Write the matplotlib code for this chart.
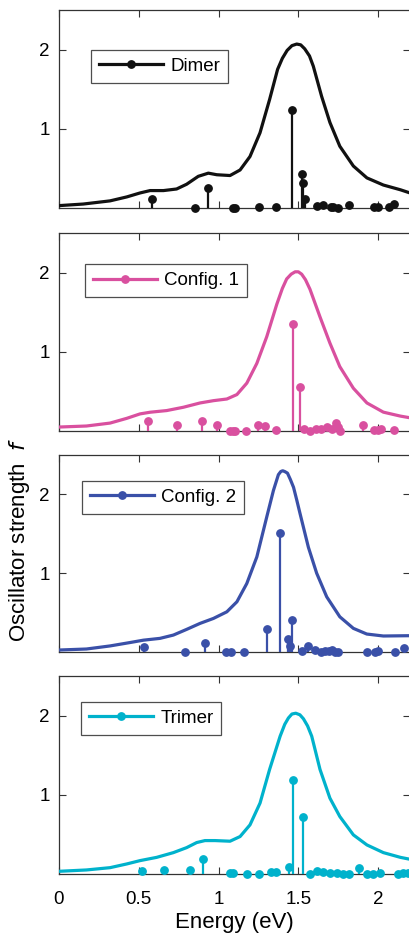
import matplotlib
matplotlib.use("Agg")
import matplotlib.pyplot as plt
from matplotlib.lines import Line2D

plt.rcParams['font.family'] = ['Liberation Sans', 'DejaVu Sans']

labels = ["Dimer", "Config. 1", "Config. 2", "Trimer"]
colors = ["#111111", "#D9509F", "#3A50A8", "#00B2CC"]

# Broadened spectra (energy in eV, oscillator strength)
dimer_curve_E = [0.0, 0.152, 0.32, 0.425, 0.508, 0.571, 0.655, 0.737, 0.80, 0.873, 0.936, 0.989,
                 1.072, 1.135, 1.197, 1.26, 1.32, 1.37, 1.40, 1.43, 1.46, 1.49, 1.515, 1.54,
                 1.57, 1.594, 1.646, 1.698, 1.76, 1.845, 1.93, 2.033, 2.14, 2.2]
dimer_curve_f = [0.03, 0.05, 0.09, 0.14, 0.19, 0.22, 0.22, 0.24, 0.30, 0.40, 0.44, 0.42,
                 0.41, 0.48, 0.65, 0.95, 1.37, 1.75, 1.89, 1.99, 2.05, 2.07, 2.06, 2.01,
                 1.92, 1.79, 1.41, 1.08, 0.78, 0.53, 0.38, 0.29, 0.23, 0.19]

c1_curve_E = [0.0, 0.172, 0.32, 0.425, 0.508, 0.571, 0.675, 0.78, 0.884, 0.968, 1.052, 1.115,
              1.177, 1.24, 1.302, 1.365, 1.40, 1.427, 1.455, 1.48, 1.50, 1.521, 1.545, 1.573,
              1.636, 1.698, 1.76, 1.845, 1.93, 2.033, 2.14, 2.2]
c1_curve_f = [0.05, 0.063, 0.10, 0.16, 0.216, 0.237, 0.258, 0.30, 0.354, 0.383, 0.404, 0.46,
              0.604, 0.854, 1.19, 1.60, 1.80, 1.92, 1.98, 2.01, 2.01, 1.98, 1.91, 1.79,
              1.44, 1.11, 0.813, 0.54, 0.354, 0.238, 0.188, 0.167]

c2_curve_E = [0.0, 0.172, 0.32, 0.445, 0.529, 0.633, 0.717, 0.80, 0.884, 0.968, 1.052, 1.115,
              1.177, 1.24, 1.302, 1.344, 1.375, 1.39, 1.402, 1.415, 1.432, 1.45, 1.47, 1.49,
              1.511, 1.563, 1.615, 1.678, 1.76, 1.845, 1.929, 2.033, 2.2]
c2_curve_f = [0.025, 0.038, 0.077, 0.12, 0.15, 0.173, 0.215, 0.287, 0.363, 0.426, 0.51, 0.637,
              0.869, 1.207, 1.713, 2.05, 2.25, 2.29, 2.30, 2.29, 2.27, 2.19, 2.09, 1.93,
              1.755, 1.33, 1.0, 0.70, 0.447, 0.30, 0.228, 0.203, 0.207]

tr_curve_E = [0.0, 0.172, 0.32, 0.425, 0.508, 0.612, 0.717, 0.80, 0.863, 0.915, 0.978, 1.072,
              1.135, 1.197, 1.26, 1.32, 1.386, 1.415, 1.438, 1.46, 1.484, 1.51, 1.532, 1.558,
              1.584, 1.636, 1.698, 1.76, 1.845, 1.93, 2.033, 2.14, 2.2]
tr_curve_f = [0.034, 0.051, 0.08, 0.127, 0.169, 0.21, 0.27, 0.333, 0.397, 0.422, 0.422, 0.414,
              0.473, 0.62, 0.895, 1.32, 1.74, 1.89, 1.97, 2.02, 2.03, 2.01, 1.96, 1.87,
              1.74, 1.32, 0.958, 0.726, 0.494, 0.367, 0.27, 0.21, 0.186]

# Individual transitions (stems)
dimer_E = [0.581, 0.853, 0.934, 1.093, 1.105, 1.256, 1.357, 1.463, 1.526, 1.530, 1.540,
           1.619, 1.657, 1.705, 1.72, 1.747, 1.82, 1.975, 2.002, 2.071, 2.102]
dimer_f = [0.117, 0.005, 0.25, 0.005, 0.005, 0.008, 0.008, 1.235, 0.425, 0.31, 0.11,
           0.02, 0.04, 0.01, 0.01, 0.005, 0.04, 0.01, 0.01, 0.01, 0.05]

c1_E = [0.556, 0.738, 0.899, 0.989, 1.072, 1.089, 1.105, 1.172, 1.246, 1.292, 1.357, 1.467,
        1.511, 1.536, 1.574, 1.611, 1.64, 1.678, 1.71, 1.737, 1.747, 1.762, 1.904, 1.975,
        1.998, 2.019, 2.098]
c1_f = [0.12, 0.07, 0.125, 0.08, 0.0, 0.0, 0.0, 0.0, 0.07, 0.06, 0.01, 1.35,
        0.56, 0.03, 0.0, 0.03, 0.03, 0.05, 0.02, 0.1, 0.05, 0.0, 0.07, 0.01,
        0.01, 0.02, 0.01]

c2_E = [0.533, 0.792, 0.913, 1.047, 1.08, 1.162, 1.302, 1.388, 1.436, 1.446, 1.461, 1.52,
        1.563, 1.605, 1.641, 1.668, 1.69, 1.71, 1.73, 1.751, 1.929, 1.981, 2.002, 2.107, 2.163]
c2_f = [0.06, 0.0, 0.11, 0.0, 0.0, 0.0, 0.29, 1.51, 0.17, 0.08, 0.40, 0.01,
        0.07, 0.02, 0.0, 0.01, 0.01, 0.02, 0.0, 0.0, 0.0, 0.0, 0.01, 0.0, 0.05]

tr_E = [0.518, 0.656, 0.821, 0.905, 1.07, 1.093, 1.176, 1.256, 1.327, 1.36, 1.444, 1.465,
        1.528, 1.574, 1.615, 1.657, 1.699, 1.741, 1.782, 1.82, 1.883, 1.929, 1.971, 2.013,
        2.127, 2.159, 2.19]
tr_f = [0.04, 0.05, 0.05, 0.19, 0.01, 0.01, 0.0, 0.0, 0.02, 0.02, 0.085, 1.19,
        0.72, 0.0, 0.04, 0.02, 0.01, 0.01, 0.0, 0.0, 0.07, 0.0, 0.0, 0.01,
        0.0, 0.01, 0.01]

curves = [(dimer_curve_E, dimer_curve_f), (c1_curve_E, c1_curve_f),
          (c2_curve_E, c2_curve_f), (tr_curve_E, tr_curve_f)]
stems = [(dimer_E, dimer_f), (c1_E, c1_f), (c2_E, c2_f), (tr_E, tr_f)]

xticks = [0, 0.5, 1, 1.5, 2]
xticklabels = ["0", "0.5", "1", "1.5", "2"]
yticks = [1, 2]

W, H = 410, 936
fig = plt.figure(figsize=(W / 100, H / 100), dpi=100)

tops = [10, 233, 455, 676]
bottoms = [208, 431, 652, 874]
legend_anchor = [(0.091, 0.798), (0.074, 0.843), (0.066, 0.868), (0.063, 0.869)]
left_px, right_px = 59, 410

for i in range(4):
    ax = fig.add_axes([left_px / W, 1 - bottoms[i] / H, (right_px - left_px) / W,
                       (bottoms[i] - tops[i]) / H])
    col = colors[i]
    cE, cf = curves[i]
    ax.plot(cE, cf, color=col, lw=2.3, solid_joinstyle='round', solid_capstyle='round', zorder=3)
    sE, sf = stems[i]
    ax.vlines(sE, 0, sf, color=col, lw=1.6, zorder=3)
    ax.plot(sE, sf, 'o', color=col, ms=5.3, zorder=4, clip_on=False)
    ax.set_xlim(0, 2.2)
    ax.set_ylim(0, 2.5)
    ax.set_xticks(xticks)
    ax.set_yticks(yticks)
    ax.set_yticklabels([str(t) for t in yticks])
    ax.tick_params(axis='y', direction='in', left=True, right=True, length=5, width=0.8,
                   labelsize=13.5, color='#333333', pad=6.5)
    ax.tick_params(axis='x', direction='in', top=True, bottom=True, length=5, width=0.8,
                   labelsize=13.5, color='#333333', pad=12)
    if i == 3:
        ax.set_xticklabels(xticklabels)
        ax.set_xlabel("Energy (eV)", fontsize=16, labelpad=3)
    else:
        ax.set_xticklabels([])
    for s in ax.spines.values():
        s.set_color('#333333')
        s.set_linewidth(0.9)
    handle = Line2D([], [], color=col, lw=2.3, marker='o', ms=5.3)
    leg = ax.legend([handle], [labels[i]], loc='upper left', bbox_to_anchor=legend_anchor[i],
                    borderaxespad=0, fontsize=13.5, frameon=True, fancybox=False,
                    handlelength=3.4, handletextpad=0.4, borderpad=0.42, numpoints=1)
    leg.get_frame().set_edgecolor('#222222')
    leg.get_frame().set_linewidth(0.9)

fig.text(20 / W, 1 - 540 / H, "Oscillator strength  $f$", rotation=90, fontsize=16,
         ha='center', va='center')

fig.savefig("out.png", dpi=100)
